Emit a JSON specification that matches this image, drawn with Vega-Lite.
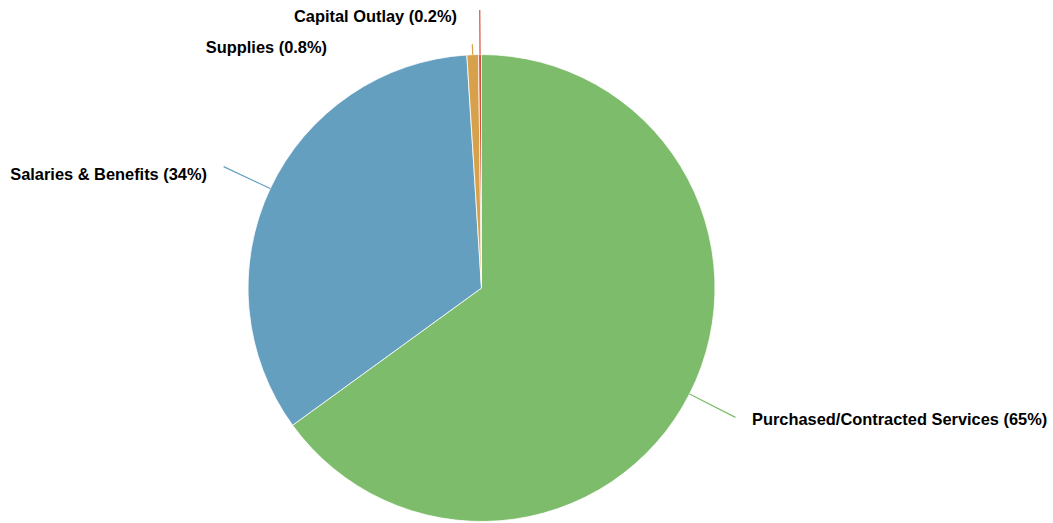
{
  "$schema": "https://vega.github.io/schema/vega-lite/v6.json",
  "width": 963,
  "height": 470,
  "autosize": {"type": "none"},
  "padding": {"left": 0, "top": 53, "right": 90, "bottom": 0},
  "background": "white",
  "view": {"stroke": null},
  "config": {"text": {"font": "Liberation Sans", "fontWeight": "bold", "fontSize": 16.4, "color": "#000"}},
  "data": {"values": [
    {"category": "Purchased/Contracted Services", "value": 65, "label": "Purchased/Contracted Services (65%)", "idx": 1},
    {"category": "Salaries & Benefits", "value": 34, "label": "Salaries & Benefits (34%)", "idx": 2},
    {"category": "Supplies", "value": 0.8, "label": "Supplies (0.8%)", "idx": 3},
    {"category": "Capital Outlay", "value": 0.2, "label": "Capital Outlay (0.2%)", "idx": 4}
  ]},
  "transform": [
    {"stack": "value", "groupby": [], "sort": [{"field": "idx", "order": "ascending"}], "as": ["v0", "v1"]},
    {"calculate": "(datum.v0 + datum.v1) / 2", "as": "mid"}
  ],
  "layer": [
    {
      "mark": {"type": "arc", "outerRadius": 233.5, "stroke": "#ffffff", "strokeWidth": 0.8},
      "encoding": {
        "theta": {"field": "v0", "type": "quantitative", "scale": {"domain": [0, 100], "range": [0, 6.283185307179586]}},
        "theta2": {"field": "v1"},
        "color": {"field": "category", "type": "nominal", "legend": null,
          "scale": {"domain": ["Purchased/Contracted Services", "Salaries & Benefits", "Supplies", "Capital Outlay"],
                    "range": ["#7dbc6a", "#659fbf", "#d7a14c", "#d94f3d"]}}
      }
    },
    {
      "transform": [{"filter": "datum.idx <= 2"}],
      "mark": {"type": "arc", "filled": false, "strokeWidth": 1.2, "outerRadius": 285, "innerRadius": 233.5},
      "encoding": {
        "theta": {"field": "mid", "type": "quantitative", "scale": {"domain": [0, 100], "range": [0, 6.283185307179586]}},
        "theta2": {"field": "mid"},
        "color": {"field": "category", "type": "nominal", "legend": null}
      }
    },
    {
      "transform": [{"filter": "datum.idx == 3"}],
      "mark": {"type": "arc", "filled": false, "strokeWidth": 1.2, "outerRadius": 244, "innerRadius": 233.5},
      "encoding": {
        "theta": {"field": "mid", "type": "quantitative", "scale": {"domain": [0, 100], "range": [0, 6.283185307179586]}},
        "theta2": {"field": "mid"},
        "color": {"field": "category", "type": "nominal", "legend": null}
      }
    },
    {
      "transform": [{"filter": "datum.idx == 4"}],
      "mark": {"type": "arc", "filled": false, "strokeWidth": 1.2, "outerRadius": 278, "innerRadius": 233.5},
      "encoding": {
        "theta": {"field": "mid", "type": "quantitative", "scale": {"domain": [0, 100], "range": [0, 6.283185307179586]}},
        "theta2": {"field": "mid"},
        "color": {"field": "category", "type": "nominal", "legend": null}
      }
    },
    {
      "transform": [{"filter": "datum.idx == 1"}],
      "mark": {"type": "text", "align": "left", "baseline": "alphabetic", "dx": 16.6, "dy": 7.6},
      "encoding": {
        "theta": {"field": "mid", "type": "quantitative", "scale": {"domain": [0, 100], "range": [0, 6.283185307179586]}},
        "radius": {"value": 285},
        "text": {"field": "label"}
      }
    },
    {
      "transform": [{"filter": "datum.idx == 2"}],
      "mark": {"type": "text", "align": "right", "baseline": "alphabetic", "dx": -16.6, "dy": 13.4},
      "encoding": {
        "theta": {"field": "mid", "type": "quantitative", "scale": {"domain": [0, 100], "range": [0, 6.283185307179586]}},
        "radius": {"value": 285},
        "text": {"field": "label"}
      }
    },
    {
      "transform": [{"filter": "datum.idx == 3"}],
      "mark": {"type": "text", "align": "right", "baseline": "alphabetic", "dx": -143.8, "dy": 49.8},
      "encoding": {
        "theta": {"field": "mid", "type": "quantitative", "scale": {"domain": [0, 100], "range": [0, 6.283185307179586]}},
        "radius": {"value": 285},
        "text": {"field": "label"}
      }
    },
    {
      "transform": [{"filter": "datum.idx == 4"}],
      "mark": {"type": "text", "align": "right", "baseline": "alphabetic", "dx": -22.7, "dy": 19},
      "encoding": {
        "theta": {"field": "mid", "type": "quantitative", "scale": {"domain": [0, 100], "range": [0, 6.283185307179586]}},
        "radius": {"value": 285},
        "text": {"field": "label"}
      }
    }
  ]
}
